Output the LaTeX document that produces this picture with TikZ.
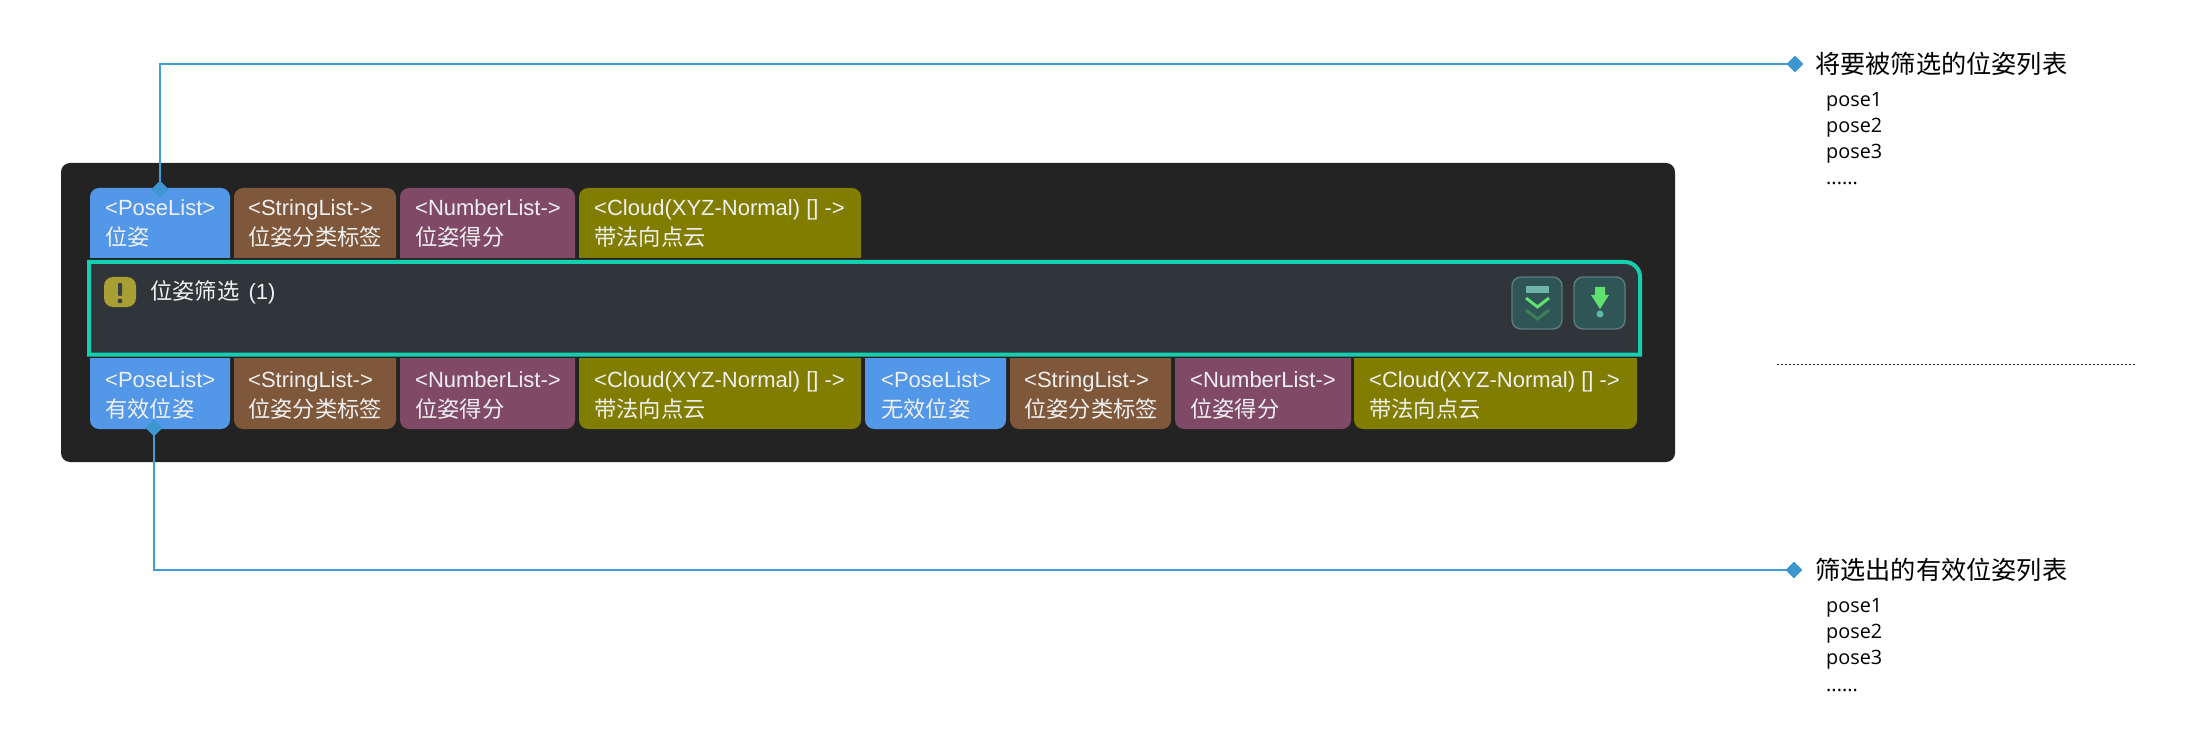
\documentclass[tikz,border=0pt]{standalone}
\usepackage{fontspec}
\usetikzlibrary{shapes.geometric}
\setmainfont{Liberation Sans}
\newfontfamily\cjk{Noto Sans CJK SC}
\newfontfamily\latn{Open Sans}
\definecolor{panel}{HTML}{232323}
\definecolor{nodefill}{HTML}{30353A}
\definecolor{teal}{HTML}{14D0B0}
\definecolor{cblue}{HTML}{5297E8}
\definecolor{cbrown}{HTML}{7F573A}
\definecolor{cpurple}{HTML}{804A66}
\definecolor{colive}{HTML}{807D00}
\definecolor{wire}{HTML}{429BDB}
\definecolor{dmd}{HTML}{3C96D0}
\definecolor{btnfill}{HTML}{2F5557}
\definecolor{btnline}{HTML}{5E7C7E}
\definecolor{gr}{HTML}{5FE06F}
\definecolor{grd}{HTML}{3B8058}
\definecolor{ltr}{HTML}{6FB5A8}
\definecolor{warn}{HTML}{A89E33}
\definecolor{warnmark}{HTML}{3A4048}
\newcommand{\cjkt}[1]{{\cjk\fontsize{22.3}{24}\selectfont #1}}
\tikzset{
  x=1pt,y=-1pt,
  porttext/.style={inner sep=0pt,anchor=base west,text=white!94!black,font=\fontsize{22}{24}\selectfont},
  pin/.style={diamond,aspect=1,fill=dmd,inner sep=0pt,minimum size=16.5pt},
  wireline/.style={draw=wire,line width=2.8pt},
  righthead/.style={inner sep=0pt,anchor=base west,text=black,font=\cjk\fontsize{25.2}{30}\selectfont},
  rightitem/.style={inner sep=0pt,anchor=base west,text=black,font=\latn\fontsize{19.8}{24}\selectfont},
  btn/.style={fill=btnfill,draw=btnline,line width=1.4pt,rounded corners=9pt},
}
% upper port: name, x1, x2, colour, text x, line1, line2
\newcommand{\upperport}[7]{%
  \fill[#4,rounded corners=9pt] (#2,188) -- (#3,188) -- (#3,275) -- (#2,275) -- cycle;
  \node[porttext] (#1a) at (#5,216) {#6};
  \node[porttext] (#1b) at (#5,246) {\cjkt{#7}};
}
\newcommand{\lowerport}[7]{%
  \fill[#4,rounded corners=9pt] (#2,340) -- (#3,340) -- (#3,429) -- (#2,429) -- cycle;
  \node[porttext] (#1a) at (#5,387) {#6};
  \node[porttext] (#1b) at (#5,417) {\cjkt{#7}};
}
\begin{document}
\begin{tikzpicture}
\useasboundingbox (0,0) rectangle (2200,743);
\fill[white] (0,0) rectangle (2200,743);
\fill[panel,rounded corners=9pt] (61,163) rectangle (1675,462);
\upperport{ua}{90}{230}{cblue}{105}{<PoseList>}{位姿}
\upperport{ub}{234}{396}{cbrown}{248}{<StringList->}{位姿分类标签}
\upperport{uc}{400}{575}{cpurple}{415}{<NumberList->}{位姿得分}
\upperport{ud}{579}{861}{colive}{594}{<Cloud(XYZ-Normal) [] ->}{带法向点云}
\lowerport{la}{90}{230}{cblue}{105}{<PoseList>}{有效位姿}
\lowerport{lb}{234}{396}{cbrown}{248}{<StringList->}{位姿分类标签}
\lowerport{lc}{400}{575}{cpurple}{415}{<NumberList->}{位姿得分}
\lowerport{ld}{579}{861}{colive}{594}{<Cloud(XYZ-Normal) [] ->}{带法向点云}
\lowerport{le}{865}{1006}{cblue}{881}{<PoseList>}{无效位姿}
\lowerport{lf}{1010}{1171}{cbrown}{1024}{<StringList->}{位姿分类标签}
\lowerport{lg}{1175}{1351}{cpurple}{1190}{<NumberList->}{位姿得分}
\lowerport{lh}{1354}{1637}{colive}{1369}{<Cloud(XYZ-Normal) [] ->}{带法向点云}
% main node
\draw[panel,line width=7pt] (89,262) -- (1640,262) -- (1640,354.5) -- (89,354.5) -- cycle;
\fill[nodefill] (89,262) -- (1625,262) arc[start angle=-90,end angle=0,radius=15] -- (1640,354.5) -- (89,354.5) -- cycle;
\draw[draw=teal,line width=4pt,line join=miter]
  (89,262) -- (1625,262) arc[start angle=-90,end angle=0,radius=15] -- (1640,354.5) -- (89,354.5) -- cycle;
% warning icon
\fill[warn,rounded corners=9pt] (104,277) rectangle (136,307);
\fill[warnmark,rounded corners=1pt] (118,283) rectangle (122,296);
\fill[warnmark] (120,301) circle[radius=2.4];
\node[porttext] (title) at (150,300) {\cjkt{位姿筛选}\hspace{3pt} (1)};
% buttons
\draw[btn] (1512,277) rectangle (1562,329);
\fill[ltr] (1526,286) rectangle (1549,293);
\draw[gr,line width=3pt] (1526,298) -- (1537.5,307) -- (1549,298);
\draw[grd,line width=3pt] (1526,310) -- (1537.5,319) -- (1549,310);
\draw[btn] (1574,277) rectangle (1625,329);
\fill[gr] (1595,287) -- (1605,287) -- (1605,295) -- (1609,295) -- (1600,309) -- (1591,295) -- (1595,295) -- cycle;
\fill[ltr!80!teal] (1600,314) circle[radius=3.5];
% connectors
\node[pin] (d1) at (160,189) {};
\node[pin] (d2) at (1795,64) {};
\node[pin] (d3) at (154,428) {};
\node[pin] (d4) at (1794,570) {};
\draw[wireline] (d1.center) |- (d2.center);
\draw[wireline] (d3.center) |- (d4.center);
\node[pin] at (d1) {};
\node[pin] at (d2) {};
\node[pin] at (d3) {};
\node[pin] at (d4) {};
% right texts
\node[righthead] (h1) at (1815,74) {将要被筛选的位姿列表};
\node[rightitem] (p11) at (1826,107) {pose1};
\node[rightitem] (p12) at (1826,133) {pose2};
\node[rightitem] (p13) at (1826,159) {pose3};
\node[rightitem] (p14) at (1826,185) {......};
\node[righthead] (h2) at (1815,579) {筛选出的有效位姿列表};
\node[rightitem] (p21) at (1826,612) {pose1};
\node[rightitem] (p22) at (1826,638) {pose2};
\node[rightitem] (p23) at (1826,664) {pose3};
\node[rightitem] (p24) at (1826,691) {......};
% separator
\coordinate (s1) at (1777,364);
\coordinate (s2) at (2135,364);
\draw[black!85,line width=1pt,dash pattern=on 2pt off 2pt] (s1) -- (s2);
\end{tikzpicture}
\end{document}
